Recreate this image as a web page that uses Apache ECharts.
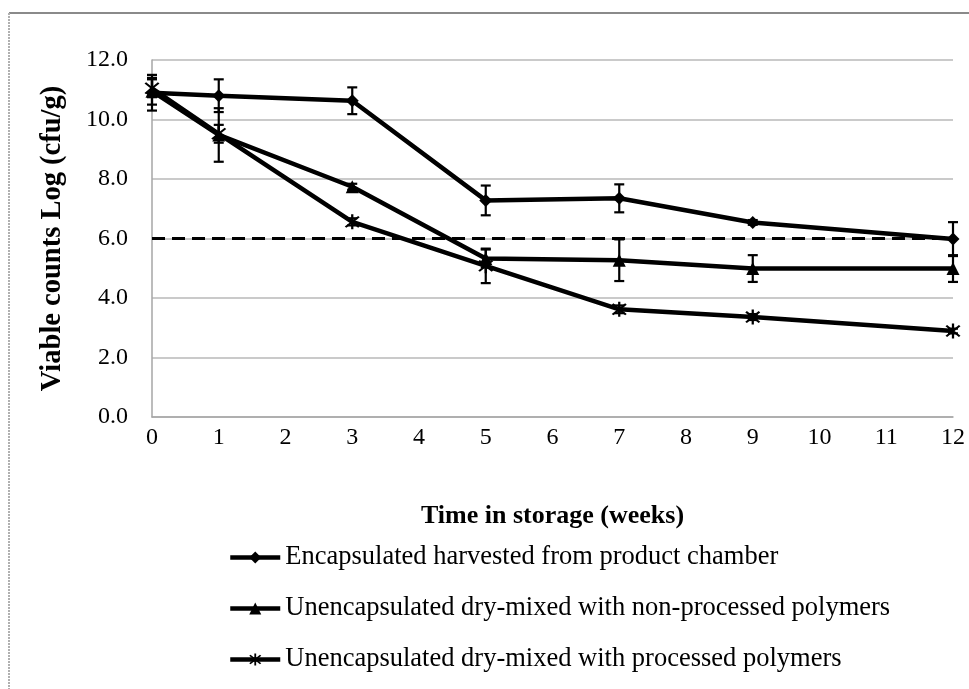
<!DOCTYPE html>
<html>
<head>
<meta charset="utf-8">
<script src="https://cdn.jsdelivr.net/npm/echarts@6/dist/echarts.min.js"></script>
<style>
html,body{margin:0;padding:0;background:#fff;}
#chart{width:969px;height:689px;}
</style>
</head>
<body>
<div id="chart"></div>
<script>
// ---- data ----
var weeks = [0, 1, 3, 5, 7, 9, 12];
var seriesNames = [
  'Encapsulated harvested from product chamber',
  'Unencapsulated dry-mixed with non-processed polymers',
  'Unencapsulated dry-mixed with processed polymers'
];
var encapsulated = [10.9, 10.8, 10.63, 7.28, 7.35, 6.54, 5.98];
var nonProcessed = [10.95, 9.48, 7.74, 5.33, 5.27, 4.99, 4.99];
var processed = [11.05, 9.52, 6.56, 5.08, 3.62, 3.36, 2.89];
var encapsulatedErr = [0.6, 0.55, 0.45, 0.5, 0.47, 0.08, 0.57];
var nonProcessedErr = [0.45, 0.9, 0.1, 0.3, 0.7, 0.45, 0.45];
var processedErr = [0.3, 0.3, 0.12, 0.58, 0.13, 0.1, 0.08];
var threshold = 6.0;
var xTicks = [0, 1, 2, 3, 4, 5, 6, 7, 8, 9, 10, 11, 12];
var yTicks = [0, 2, 4, 6, 8, 10, 12];

var FONT = "'Liberation Serif', 'Times New Roman', serif";
var starPath = 'path://M-1.2,-10L1.2,-10L1.2,10L-1.2,10Z' +
  'M-7.92,-6.22L-6.22,-7.92L7.92,6.22L6.22,7.92Z' +
  'M6.22,-7.92L7.92,-6.22L-6.22,7.92L-7.92,6.22Z';

function errData(vals, errs) {
  return weeks.map(function (w, i) { return [w, vals[i] - errs[i], vals[i] + errs[i]]; });
}
function lineData(vals) {
  return weeks.map(function (w, i) { return [w, vals[i]]; });
}
function renderErr(params, api) {
  var lo = api.coord([api.value(0), api.value(1)]);
  var hi = api.coord([api.value(0), api.value(2)]);
  var cw = 5;
  var st = { stroke: '#000', lineWidth: 2.2 };
  return {
    type: 'group',
    children: [
      { type: 'line', shape: { x1: lo[0], y1: lo[1], x2: hi[0], y2: hi[1] }, style: st },
      { type: 'line', shape: { x1: lo[0] - cw, y1: lo[1], x2: lo[0] + cw, y2: lo[1] }, style: st },
      { type: 'line', shape: { x1: hi[0] - cw, y1: hi[1], x2: hi[0] + cw, y2: hi[1] }, style: st }
    ]
  };
}

var chart = echarts.init(document.getElementById('chart'), null, { renderer: 'canvas' });
var lineCommon = {
  type: 'line',
  lineStyle: { color: '#000', width: 4.5 },
  itemStyle: { color: '#000' },
  z: 3,
  animation: false
};
var option = {
  animation: false,
  backgroundColor: '#fff',
  textStyle: { fontFamily: FONT },
  grid: { left: 152, right: 16, top: 60, bottom: 272, containLabel: false },
  xAxis: {
    type: 'value', min: 0, max: 12, interval: 1,
    name: 'Time in storage (weeks)', nameLocation: 'middle', nameGap: 86,
    nameTextStyle: { fontFamily: FONT, fontSize: 26, fontWeight: 'bold', color: '#000' },
    axisLine: { show: true, lineStyle: { color: '#a6a6a6', width: 1.5 } },
    axisTick: { show: false },
    splitLine: { show: false },
    axisLabel: { fontFamily: FONT, fontSize: 24, color: '#000', margin: 9,
      formatter: function (v) { return xTicks.indexOf(v) >= 0 ? String(v) : ''; } }
  },
  yAxis: {
    type: 'value', min: 0, max: 12, interval: 2,
    name: 'Viable counts Log (cfu/g)', nameLocation: 'middle', nameGap: 85,
    nameTextStyle: { fontFamily: FONT, fontSize: 28.5, fontWeight: 'bold', color: '#000' },
    axisLine: { show: true, lineStyle: { color: '#a6a6a6', width: 1.5 } },
    axisTick: { show: false },
    splitLine: { show: true, lineStyle: { color: '#b8b8b8', width: 1.5 } },
    axisLabel: { fontFamily: FONT, fontSize: 24, color: '#000', margin: 24,
      formatter: function (v) { return yTicks.indexOf(v) >= 0 ? v.toFixed(1) : ''; } }
  },
  legend: {
    orient: 'vertical', left: 228, top: 544, padding: 0,
    itemWidth: 50, itemHeight: 15, itemGap: 24,
    data: seriesNames,
    lineStyle: { width: 4.5, color: '#000' },
    textStyle: { fontFamily: FONT, fontSize: 26.5, color: '#000', lineHeight: 26 }
  },
  graphic: [
    { type: 'line', shape: { x1: 9, y1: 13, x2: 969, y2: 13 }, style: { stroke: '#8a8a8a', lineWidth: 2 } },
    { type: 'line', shape: { x1: 9, y1: 13, x2: 9, y2: 689 }, style: { stroke: '#b0b0b0', lineWidth: 2, lineDash: [2, 1] } }
  ],
  series: [
    Object.assign({}, lineCommon, {
      name: seriesNames[0], data: lineData(encapsulated),
      symbol: 'diamond', symbolSize: 13,
      markLine: {
        silent: true, symbol: 'none', label: { show: false },
        lineStyle: { color: '#000', width: 3, type: [13, 7] },
        data: [{ yAxis: threshold }]
      }
    }),
    Object.assign({}, lineCommon, {
      name: seriesNames[1], data: lineData(nonProcessed),
      symbol: 'triangle', symbolSize: 13
    }),
    Object.assign({}, lineCommon, {
      name: seriesNames[2], data: lineData(processed),
      symbol: starPath, symbolSize: 15
    }),
    { type: 'custom', name: 'err1', renderItem: renderErr, data: errData(encapsulated, encapsulatedErr), z: 4 },
    { type: 'custom', name: 'err2', renderItem: renderErr, data: errData(nonProcessed, nonProcessedErr), z: 4 },
    { type: 'custom', name: 'err3', renderItem: renderErr, data: errData(processed, processedErr), z: 4 }
  ]
};
chart.setOption(option);
</script>
</body>
</html>
